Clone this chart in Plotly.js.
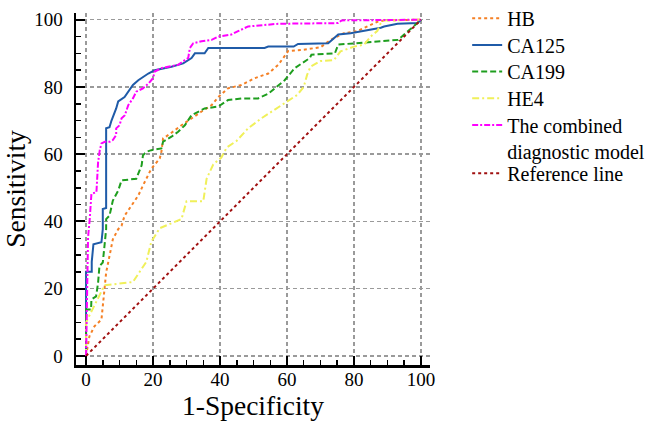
<!DOCTYPE html>
<html><head><meta charset="utf-8">
<script src="https://cdn.plot.ly/plotly-3.0.1.min.js"></script>
<style>html,body{margin:0;padding:0;background:#fff}#chart{width:649px;height:422px}</style>
</head><body><div id="chart"></div>
<script>
const seriesNames = ["HB","CA125","CA199","HE4","The combined<br>diagnostic model","Reference line"];
const hbX = [0,1,2.5,4.6,5,5.5,6,7,8,9.6,10.6,11.5,13.6,15.6,17,19.5,22,22.5,23,25,28.5,31.5,34.5,37.5,39.5,42.4,46.4,50.3,54.4,57.4,60.4,64.3,70,73,77,81,84,87,89,100];
const hbY = [0,5.8,8.8,10.8,14.8,20,24.8,29.7,34.7,37.7,38.7,41.7,44.7,47.7,50.7,55.7,58.7,60.7,64.7,66,68.6,70.7,72.7,74.6,77,79.6,80.6,82.6,84,86.6,90.7,91,91.8,94,96,96.6,98,99.4,99.8,100];
const ca125X = [0,0,1.7,1.7,2.2,4.6,5,5,6,6,7,7.6,9,9.6,11.5,13,14,15.6,17,18.6,20.5,25.5,29,31.5,32.5,35.4,36.5,53.3,54.4,62,63.3,72.3,75.3,79,88,89,93,99,100];
const ca125Y = [0,25,25,28,33.2,33.8,37.7,43.7,44,67.7,68,70,73.6,75.7,77,79,80.6,82,83,84,85,86,87,88.6,90,90,91.6,91.6,92,92,92.8,93,95.6,96,97.6,98,98.8,99,100];
const ca199X = [0,0,1.5,1.6,3,3.6,4,5,5.5,6,6,7,8,9.6,10.6,15,15.6,16.6,17,18,19.5,22.5,23,25.5,27.5,29.5,31.5,35.4,39.5,42.4,46.4,51.4,54.4,56.4,59.3,62.3,66.8,67.3,74.3,75.3,80,93.2,100];
const ca199Y = [0,13.8,13.8,16.8,17.7,21.8,26.7,27.8,32.7,37.7,40.7,41.7,46.2,49.2,52.2,52.7,54.2,56.7,59.7,60.7,61.2,61.7,63.7,65.2,66.7,68.6,71.6,73.6,74.2,76.1,76.6,76.6,78,79.6,82,85.6,88.6,89.6,90,92.6,93,94,100];
const he4X = [0,0,5.5,14,18,19.5,22,28.5,30,35,36,38,40.4,42,45,48.4,52.4,57,60,63,65,66,67,70,74,76,80,83,85,87,88,89,100];
const he4Y = [0,10,21,22,28,34,38,40.7,46,46,52.7,57,59,62,64,67.7,70.7,73.6,75.7,77.6,80,83.6,86,87.7,88,90.6,92,92.6,95,96.7,99,99.8,100];
const combX = [0,0.6,1.1,1.6,3.1,3.6,4.1,4.6,5.6,7.1,8,9,9,10,10.6,11.6,12.6,14,15,17,18.6,20,20.5,22.5,24.5,27.5,29.5,30.5,31,32,34.5,37.5,39.5,43.4,45.4,48.4,57.4,75.3,76.3,100];
const combY = [0,35.3,40.7,48.2,48.7,57.7,61.2,63.2,63.7,63.7,64.2,65.7,67.7,68.6,70.7,71.6,74.6,76.6,78.6,79.6,81,82.6,84.6,85.6,86,86.6,88,88.6,91.6,93,93.6,94,95,95.6,96.6,98,98.8,99,99.8,100];
const refX = [0,100];
const refY = [0,100];
const tickVals = [0,20,40,60,80,100];

const serif = "Liberation Serif";
const legendIds = ["legend","legend2","legend3","legend4","legend5","legend6"];
const legendTops = [1.0406,0.9648,0.8889,0.8134,0.7375,0.6003];
function tr(x,y,i,color,dash){
  return {x:x,y:y,name:seriesNames[i],type:"scatter",mode:"lines",legend:legendIds[i],
    line:{color:color,width:2,dash:dash},hoverinfo:"skip"};
}
const data = [
  tr(hbX,hbY,0,"#F58025","dot"),
  tr(ca125X,ca125Y,1,"#1F5BA8","solid"),
  tr(ca199X,ca199Y,2,"#1E9E1E","6px,3px"),
  tr(he4X,he4Y,3,"#F0F05A","7px,3px,2px,3px"),
  tr(combX,combY,4,"#FF00FF","6px,2px,2px,2px"),
  tr(refX,refY,5,"#A01010","dot")
];
const axBase = {
  showline:true, linecolor:"#000", linewidth:2.5, mirror:false,
  ticks:"inside", ticklen:9, tickwidth:2, tickcolor:"#000",
  tickvals:tickVals, showgrid:true, gridcolor:"#9a9a9a", griddash:"4px,3px", gridwidth:1.5,
  zeroline:false, tickfont:{family:serif,size:19,color:"#000"},
  minor:{dtick:5, tick0:0, ticks:"inside", ticklen:5, tickwidth:1.5, tickcolor:"#000", showgrid:false}
};
const layout = {
  width:649, height:422, paper_bgcolor:"#fff", plot_bgcolor:"#fff",
  margin:{l:76,r:219,t:13,b:57,autoexpand:false},
  font:{family:serif,color:"#000"},
  showlegend:true,
  xaxis:Object.assign({},axBase,{range:[-3,102.7],ticklabelstandoff:-4,
    title:{text:"1-Specificity",font:{family:serif,size:27.5,color:"#000"},standoff:2}}),
  yaxis:Object.assign({},axBase,{range:[-2.7,102],ticklabelstandoff:7,
    title:{text:"Sensitivity",font:{family:serif,size:27.5,color:"#000"},standoff:4}})
};
legendIds.forEach(function(id,i){
  layout[id] = {x:1.105,y:legendTops[i],xanchor:"left",yanchor:"top",valign:"top",
    font:{family:serif,size:20,color:"#000"},bgcolor:"rgba(0,0,0,0)"};
});
Plotly.newPlot("chart",data,layout,{displayModeBar:false,staticPlot:true});
</script></body></html>
